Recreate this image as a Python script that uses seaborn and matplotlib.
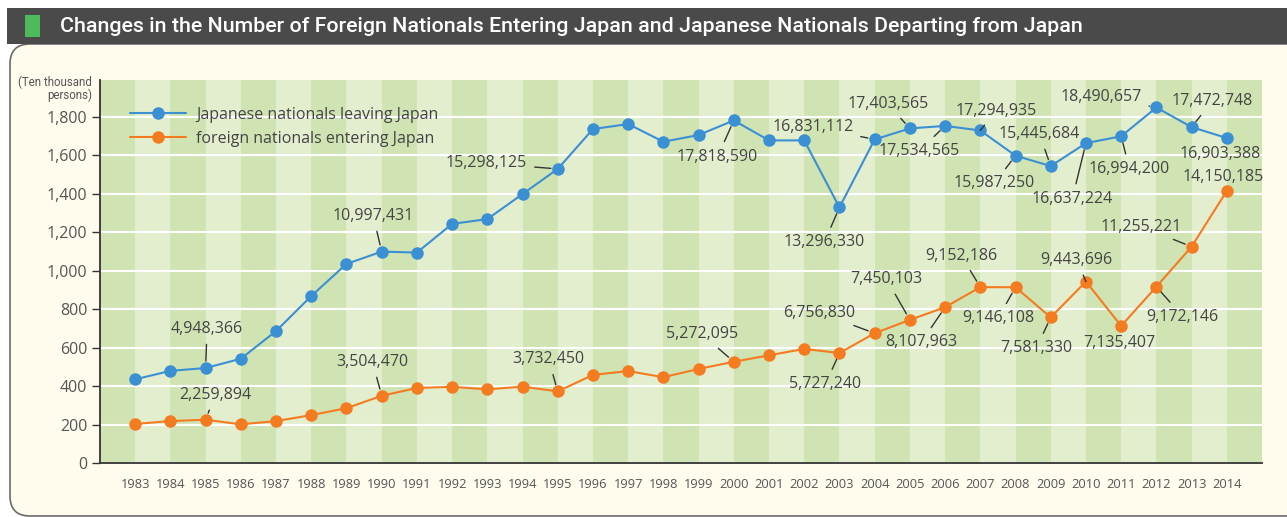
import matplotlib
matplotlib.use("Agg")
import matplotlib.pyplot as plt
from matplotlib.patches import FancyBboxPatch, Rectangle
from matplotlib.transforms import IdentityTransform
import seaborn as sns

# values in ten thousand persons
years = list(range(1983, 2015))
japanese_leaving = [436, 480, 494.8366, 543, 687, 869, 1036, 1099.7431, 1095, 1244,
                    1269, 1399, 1529.8125, 1737, 1763, 1671, 1706, 1781.859, 1678, 1678,
                    1329.633, 1683.1112, 1740.3565, 1753.4565, 1729.4935, 1598.725,
                    1544.5684, 1663.7224, 1699.42, 1849.0657, 1747.2748, 1690.3388]
foreign_entering = [204, 219, 225.9894, 202, 219, 250, 286, 350.447, 391, 397,
                    384, 398, 373.245, 459, 479, 447, 490, 527.2095, 561, 594,
                    572.724, 675.683, 745.0103, 810.7963, 915.2186, 914.6108,
                    758.133, 944.3696, 713.5407, 917.2146, 1125.5221, 1415.0185]

series_names = ["Japanese nationals leaving Japan", "foreign nationals entering Japan"]
title = ("Changes in the Number of Foreign Nationals Entering Japan "
         "and Japanese Nationals Departing from Japan")

# label placement: year -> (text x, text y, draw leader)
jp_label_pos = {
    1985: (1985.04, 698, True), 1990: (1989.76, 1285, True), 1995: (1992.98, 1559, True),
    2000: (1999.54, 1593, True), 2003: (2002.57, 1148, True), 2004: (2002.24, 1749, True),
    2005: (2004.37, 1867, True), 2006: (2005.27, 1625, True), 2007: (2007.45, 1833, True),
    2008: (2007.40, 1455, True), 2009: (2008.68, 1711, True), 2010: (2009.61, 1373, True),
    2011: (2011.24, 1528, True), 2012: (2010.43, 1905, True), 2013: (2013.59, 1883, True),
    2014: (2013.80, 1608, False),
}
fn_label_pos = {
    1985: (1985.27, 355, True), 1990: (1989.74, 526, True), 1995: (1994.74, 540, True),
    2000: (1999.10, 670, True), 2003: (2002.60, 410, True), 2004: (2002.43, 782, True),
    2005: (2004.34, 956, True), 2006: (2005.32, 628, True), 2007: (2006.46, 1079, True),
    2008: (2007.50, 753, True), 2009: (2008.59, 597, True), 2010: (2009.74, 1056, True),
    2011: (2010.94, 623, False), 2012: (2012.75, 762, True), 2013: (2011.57, 1230, True),
    2014: (2013.91, 1490, False),
}

blue = "#3b8fd3"
orange = "#f47b20"
stripe_dark = "#d0e4b3"
stripe_light = "#e3eecf"
text_col = "#444444"

sns.set_style("white")
plt.rcParams["font.family"] = ["Open Sans", "DejaVu Sans"]

W, H = 1287, 517
fig = plt.figure(figsize=(W / 100, H / 100), dpi=100, facecolor="white")

# cream panel and dark title bar (pixel coordinates), kept behind the axes
fig.add_artist(FancyBboxPatch((10, 1), 1320, 472, boxstyle="round,pad=0,rounding_size=20",
                              transform=IdentityTransform(), fc="#fffcee", ec="#6b6b6b",
                              lw=1.2, zorder=-10))
fig.add_artist(Rectangle((7, 473), 1290, 36, transform=IdentityTransform(), fc="#4a4a4b",
                         lw=0, zorder=-9))
fig.add_artist(Rectangle((25, 480), 15, 22, transform=IdentityTransform(), fc="#4dbb5b",
                         lw=0, zorder=-8))
fig.text(60 / W, 491 / H, title, color="white", fontsize=15.4, family="Roboto",
         fontweight="medium", va="center", ha="left")
fig.text(92 / W, 1 - 76 / H, "(Ten thousand\npersons)", ha="right", va="top",
         fontsize=8.3, color="#555555", linespacing=0.95, family="Roboto")

ax = fig.add_axes([100 / W, 53.8 / H, 1162 / W, 383.2 / H])

for i, yr in enumerate(range(years[0] - 1, years[-1] + 1)):
    ax.axvspan(yr, yr + 1, color=stripe_dark if i % 2 == 0 else stripe_light, lw=0, zorder=0.1)

sns.lineplot(x=years, y=japanese_leaving, color=blue, marker="o", markersize=9,
             markeredgewidth=0, linewidth=1.5, label=series_names[0], ax=ax, zorder=3)
sns.lineplot(x=years, y=foreign_entering, color=orange, marker="o", markersize=9,
             markeredgewidth=0, linewidth=1.5, label=series_names[1], ax=ax, zorder=3)

def add_labels(values, placements):
    for yr, (tx, ty, leader) in placements.items():
        v = values[years.index(yr)]
        arrow = dict(arrowstyle="-", color="#333333", lw=1, shrinkA=3, shrinkB=5) if leader else None
        ax.annotate(f"{round(v * 10000):,}", xy=(yr, v), xytext=(tx, ty), ha="center",
                    va="center", fontsize=11.5, color=text_col, arrowprops=arrow, zorder=4)

add_labels(japanese_leaving, jp_label_pos)
add_labels(foreign_entering, fn_label_pos)

ax.set_xlim(years[0] - 1, years[-1] + 1)
ax.set_ylim(0, 1992)
ax.set_xticks(years)
ax.set_xticklabels([str(y) for y in years], fontsize=9.3, color="#555555")
ax.set_yticks(range(0, 2000, 200))
ax.set_yticklabels([f"{v:,}" for v in range(0, 2000, 200)], fontsize=11.5, color="#555555")
ax.tick_params(axis="x", length=0, pad=11)
ax.tick_params(axis="y", length=6, width=1, color="#333333", direction="out", pad=3, left=True)
ax.set_axisbelow(True)
ax.yaxis.grid(True, color="white", lw=1.5)
ax.xaxis.grid(False)
for s in ["top", "right"]:
    ax.spines[s].set_visible(False)
for s in ["left", "bottom"]:
    ax.spines[s].set_color("#333333")
    ax.spines[s].set_linewidth(1.3)
ax.set_xlabel("")
ax.set_ylabel("")

leg = ax.legend(loc="upper left", bbox_to_anchor=(0.026, 0.93), frameon=False,
                fontsize=11.5, handlelength=3.5, handletextpad=0.65, labelspacing=0.5,
                borderpad=0, borderaxespad=0)
for t in leg.get_texts():
    t.set_color(text_col)

fig.savefig("out.png", dpi=100, facecolor=fig.get_facecolor())
